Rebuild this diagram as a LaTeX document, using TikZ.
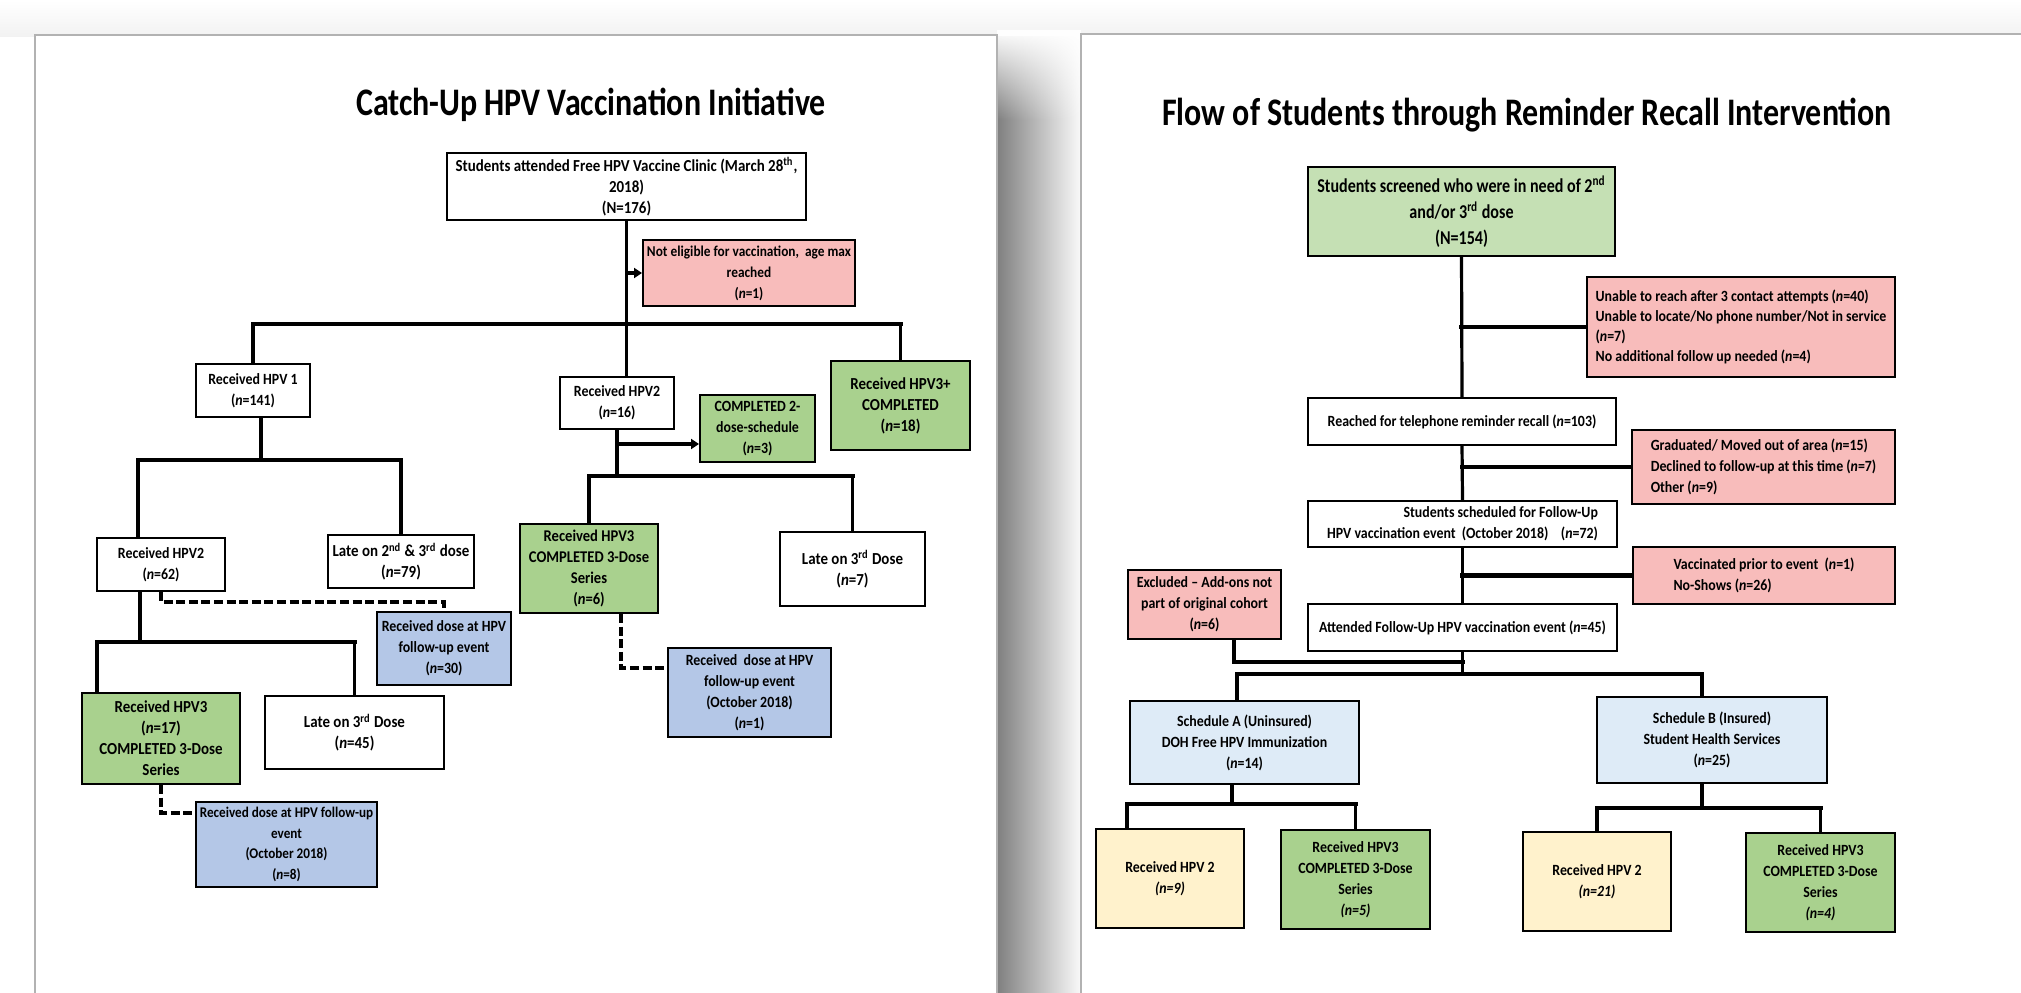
\documentclass[tikz,border=0pt]{standalone}
\usepackage{fontspec}
\setmainfont{Carlito}[FakeStretch=0.82]
\newfontfamily\boxfont{Carlito}[FakeStretch=0.89,Ligatures=TeX]
\usetikzlibrary{arrows.meta,positioning,calc,fadings}
\definecolor{notered}{HTML}{F8BCBB}
\definecolor{donegreen}{HTML}{A9D18E}
\definecolor{screengreen}{HTML}{C5E0B4}
\definecolor{fublue}{HTML}{B4C7E7}
\definecolor{schedblue}{HTML}{DEEBF7}
\definecolor{dueyellow}{HTML}{FFF2CC}
\tikzfading[name=fadedown,top color=transparent!0,bottom color=transparent!100]

\begin{document}
\begin{tikzpicture}[x=0.5pt,y=-0.5pt]
    \tikzstyle{plainbox}=[draw=black,line width=1pt,fill=white,align=center,inner sep=1pt,font=\boxfont\bfseries\fontsize{7.8}{10.5}\selectfont]
    \tikzstyle{bigtext}=[font=\boxfont\bfseries\fontsize{8.4}{10.5}\selectfont]
    \tikzstyle{redbox}=[plainbox,fill=notered]
    \tikzstyle{greenbox}=[plainbox,fill=donegreen]
    \tikzstyle{bluebox}=[plainbox,fill=fublue]
    \tikzstyle{conn}=[line width=1.6pt]
    \tikzstyle{bar}=[line width=2.4pt,line cap=rect]
    \tikzstyle{dashlink}=[line width=1.6pt,dash pattern=on 4.5pt off 1.8pt]
    \tikzstyle{arr}=[line width=1.6pt,-{Triangle[length=4pt,width=5pt]}]
    \tikzstyle{pagetitle}=[anchor=base,font=\bfseries\fontsize{19.5}{22}\selectfont]
    \useasboundingbox (0,0) rectangle (2021,992);
    \clip (0,0) rectangle (2021,992);
    % pages
    \fill[white] (0,0) rectangle (2021,992);
    \shade[top color=white,bottom color=black!5] (0,0) rectangle (2021,36);
    \shade[left color=black!50,right color=black!2] (997,36) rectangle (1081,992);
    \fill[white,path fading=fadedown] (997,30) rectangle (1081,120);
    \draw[black!30,line width=0.6pt,fill=white] (35,35) rectangle (997,1000);
    \draw[black!30,line width=0.6pt,fill=white] (1081,34) rectangle (2030,1000);

    % left page: catch-up initiative
    \node[pagetitle] (titleL) at (591,115) {Catch-Up HPV Vaccination Initiative};
    \node[plainbox,bigtext,minimum width=179.5pt,minimum height=33.5pt] (start) at (626.5,186.5) {Students attended Free HPV Vaccine Clinic (March 28\textsuperscript{th},\\2018)\\(N=176)};
    \node[redbox,minimum width=106pt,minimum height=33pt,font=\boxfont\bfseries\fontsize{7.5}{10.5}\selectfont] (noteligible) at (749,273) {Not eligible for vaccination,\ \ age max\\reached\\(\textit{n}=1)};
    \node[plainbox,minimum width=57pt,minimum height=26.5pt] (hpv1) at (253,390.5) {Received HPV 1\\(\textit{n}=141)};
    \node[plainbox,minimum width=57pt,minimum height=26pt] (hpv2a) at (617,403) {Received HPV2\\(\textit{n}=16)};
    \node[greenbox,minimum width=57.5pt,minimum height=33.5pt] (comp2) at (757.5,428.5) {COMPLETED 2-\\dose-schedule\\(\textit{n}=3)};
    \node[greenbox,bigtext,minimum width=69.5pt,minimum height=44.5pt] (hpv3plus) at (900.5,405.5) {Received HPV3+\\COMPLETED\\(\textit{n}=18)};
    \node[plainbox,minimum width=64pt,minimum height=26.5pt] (hpv2b) at (161,564.5) {Received HPV2\\(\textit{n}=62)};
    \node[plainbox,bigtext,minimum width=73pt,minimum height=26.5pt] (late23) at (401,561.5) {Late on 2\textsuperscript{nd} \& 3\textsuperscript{rd} dose\\(\textit{n}=79)};
    \node[greenbox,minimum width=69pt,minimum height=44.5pt,font=\boxfont\bfseries\fontsize{8.2}{10.5}\selectfont] (hpv3a) at (589,568.5) {Received HPV3\\COMPLETED 3-Dose\\Series\\(\textit{n}=6)};
    \node[plainbox,bigtext,minimum width=72.5pt,minimum height=37pt] (late3a) at (852.5,569) {Late on 3\textsuperscript{rd} Dose\\(\textit{n}=7)};
    \node[bluebox,minimum width=67pt,minimum height=36.5pt] (fu30) at (444,648.5) {Received dose at HPV\\follow-up event\\(\textit{n}=30)};
    \node[greenbox,bigtext,minimum width=79pt,minimum height=45.5pt] (hpv3b) at (161,738.5) {Received HPV3\\(\textit{n}=17)\\COMPLETED 3-Dose\\Series};
    \node[plainbox,bigtext,minimum width=89.5pt,minimum height=36.5pt] (late3b) at (354.5,732.5) {Late on 3\textsuperscript{rd} Dose\\(\textit{n}=45)};
    \node[bluebox,minimum width=90.5pt,minimum height=42.5pt,font=\boxfont\bfseries\fontsize{7.4}{10.3}\selectfont] (fu8) at (286.5,844.5) {Received dose at HPV follow-up\\event\\(October 2018)\\(\textit{n}=8)};
    \node[bluebox,minimum width=81.5pt,minimum height=44.5pt] (fu1) at (749.5,692.5) {Received\ \ dose at HPV\\follow-up event\\(October 2018)\\(\textit{n}=1)};

    \coordinate (j1) at (626.5,324);
    \coordinate (j2) at (261,460);
    \coordinate (j2l) at (138,460);
    \coordinate (j3) at (617,476);
    \coordinate (a2) at (617,444);
    \coordinate (j4) at (140,642);
    \coordinate (j4l) at (97,642);
    \coordinate (d8) at (161,813);
    \coordinate (d1) at (621,668);

    \draw[conn] (start.south) -- (start.south |- hpv2a.north);
    \draw[arr] (start.south |- noteligible.west) -- (noteligible.west);
    \draw[bar] (hpv1.north |- j1) -- (hpv3plus.north |- j1);
    \draw[conn] (hpv1.north |- j1) -- (hpv1.north);
    \draw[conn] (hpv3plus.north |- j1) -- (hpv3plus.north);
    \draw[conn] (hpv1.south -| j2) -- (j2);
    \draw[bar] (j2l) -- (late23.north |- j2);
    \draw[conn] (j2l) -- (j2l |- hpv2b.north);
    \draw[conn] (late23.north |- j2) -- (late23.north);
    \draw[conn] (hpv2a.south) -- (j3);
    \draw[arr,line width=2.2pt] (a2) -- (a2 -| comp2.west);
    \draw[bar] (hpv3a.north |- j3) -- (late3a.north |- j3);
    \draw[conn] (hpv3a.north |- j3) -- (hpv3a.north);
    \draw[conn] (late3a.north |- j3) -- (late3a.north);
    \draw[dashlink] (hpv2b.south) -- ++(0,10) -| (fu30.north);
    \draw[conn] (hpv2b.south -| j4) -- (j4);
    \draw[bar] (j4l) -- (late3b.north |- j4);
    \draw[conn] (j4l) -- (j4l |- hpv3b.north);
    \draw[conn] (late3b.north |- j4) -- (late3b.north);
    \draw[dashlink] (hpv3b.south) -- (d8) -- (d8 -| fu8.west);
    \draw[dashlink] (hpv3a.south -| d1) -- (d1) -- (d1 -| fu1.west);

    % right page: reminder recall
    \node[pagetitle] (titleR) at (1527,125) {Flow of Students through Reminder Recall Intervention};
    \node[plainbox,fill=screengreen,minimum width=153.5pt,minimum height=44.5pt,font=\bfseries\fontsize{9.8}{13}\selectfont] (screened) at (1461.5,211.5) {Students screened who were in need of 2\textsuperscript{nd}\\and/or 3\textsuperscript{rd} dose\\(N=154)};
    \node[redbox,align=left,minimum width=154pt,minimum height=50pt,font=\boxfont\bfseries\fontsize{7.8}{10}\selectfont] (excl1) at (1741,327) {Unable to reach after 3 contact attempts (\textit{n}=40)\\Unable to\ locate/No phone number/Not in service\\(\textit{n}=7)\\No additional follow up needed (\textit{n}=4)};
    \node[plainbox,minimum width=154pt,minimum height=23.5pt] (reached) at (1462,421.5) {Reached for telephone reminder recall (\textit{n}=103)};
    \node[redbox,align=left,minimum width=131.5pt,minimum height=37pt] (excl2) at (1763.5,467) {Graduated/ Moved out of area (\textit{n}=15)\\Declined to follow-up at this time (\textit{n}=7)\\Other (\textit{n}=9)};
    \node[plainbox,align=right,minimum width=154.5pt,minimum height=23pt] (sched) at (1462.5,524) {Students scheduled for Follow-Up\\HPV vaccination event\ \ (October 2018)\ \ \ \ (\textit{n}=72)};
    \node[redbox,align=left,minimum width=131pt,minimum height=28.5pt] (excl3) at (1764,575.5) {Vaccinated prior to event\ \ (\textit{n}=1)\\No-Shows (\textit{n}=26)};
    \node[redbox,minimum width=76.5pt,minimum height=34.5pt] (excluded) at (1204.5,604.5) {Excluded \textendash{} Add-ons not\\part of original cohort\\(\textit{n}=6)};
    \node[plainbox,minimum width=154.5pt,minimum height=23.5pt] (attended) at (1462.5,627.5) {Attended Follow-Up HPV vaccination event (\textit{n}=45)};
    \node[plainbox,fill=schedblue,minimum width=114.5pt,minimum height=41.5pt] (schedA) at (1244.5,742.5) {Schedule A (Uninsured)\\DOH Free HPV Immunization\\(\textit{n}=14)};
    \node[plainbox,fill=schedblue,minimum width=115pt,minimum height=43pt] (schedB) at (1712,740) {Schedule B (Insured)\\Student Health Services\\(\textit{n}=25)};
    \node[plainbox,fill=dueyellow,minimum width=74pt,minimum height=49.5pt] (r2a) at (1170,878.5) {Received HPV 2\\\textit{(n=9)}};
    \node[greenbox,minimum width=74.5pt,minimum height=49.5pt] (r3a) at (1355.5,879.5) {Received HPV3\\COMPLETED 3-Dose\\Series\\\textit{(n=5)}};
    \node[plainbox,fill=dueyellow,minimum width=74pt,minimum height=49.5pt] (r2b) at (1597,881.5) {Received HPV 2\\\textit{(n=21)}};
    \node[greenbox,minimum width=74.5pt,minimum height=49.5pt] (r3b) at (1820.5,882.5) {Received HPV3\\COMPLETED 3-Dose\\Series\\\textit{(n=4)}};

    \coordinate (j5l) at (1237,674);
    \coordinate (j5r) at (1702,674);
    \coordinate (j6l) at (1234,662);
    \coordinate (j7) at (1232,804);
    \coordinate (j7l) at (1127,804);
    \coordinate (j8) at (1702,808);

    \draw[conn] (screened.south) -- (reached.north);
    \draw[bar] (excl1.west -| screened.south) -- (excl1.west);
    \draw[conn] (reached.south) -- (sched.north);
    \draw[bar] (excl2.west -| reached.south) -- (excl2.west);
    \draw[conn] (sched.south) -- (attended.north);
    \draw[bar] (excl3.west -| sched.south) -- (excl3.west);
    \draw[conn] (excluded.south -| j6l) -- (j6l);
    \draw[bar] (j6l) -- (attended.south |- j6l);
    \draw[conn] (attended.south) -- (attended.south |- j5l);
    \draw[bar] (j5l) -- (j5r);
    \draw[conn] (j5l) -- (j5l |- schedA.north);
    \draw[conn] (j5r) -- (j5r |- schedB.north);
    \draw[conn] (schedA.south -| j7) -- (j7);
    \draw[bar] (j7l) -- (r3a.north |- j7);
    \draw[conn] (j7l) -- (j7l |- r2a.north);
    \draw[conn] (r3a.north |- j7) -- (r3a.north);
    \draw[conn] (schedB.south -| j8) -- (j8);
    \draw[bar] (r2b.north |- j8) -- (r3b.north |- j8);
    \draw[conn] (r2b.north |- j8) -- (r2b.north);
    \draw[conn] (r3b.north |- j8) -- (r3b.north);
\end{tikzpicture}
\end{document}
